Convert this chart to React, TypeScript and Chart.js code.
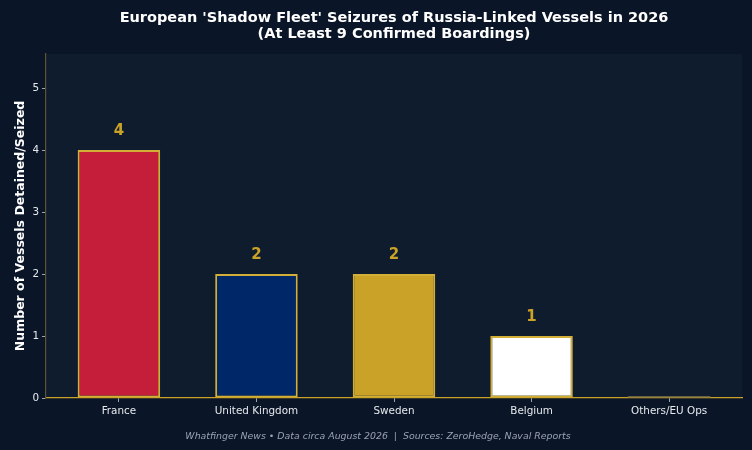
import React, { useEffect, useRef } from "react";
import { Chart, registerables } from "chart.js";

Chart.register(...registerables);

const categories = ["France", "United Kingdom", "Sweden", "Belgium", "Others/EU Ops"];
const seizures = [4, 2, 2, 1, 0];
const barColors = ["#c41e3a", "#002868", "#c9a227", "#ffffff", "#5a6270"];
const yTicks = [0, 1, 2, 3, 4, 5];
const titleLines = [
  "European 'Shadow Fleet' Seizures of Russia-Linked Vessels in 2026",
  "(At Least 9 Confirmed Boardings)",
];
const footerText =
  "Whatfinger News \u2022 Data circa August 2026  |  Sources: ZeroHedge, Naval Reports";

const FONT = "'DejaVu Sans', sans-serif";

export default function App() {
  const ref = useRef<HTMLCanvasElement | null>(null);

  useEffect(() => {
    document.body.style.margin = "0";
    document.body.style.background = "#0a1628";
    const canvas = ref.current;
    if (!canvas) return;

    const bgPlugin = {
      id: "bgPlugin",
      beforeDraw(chart: any) {
        const { ctx, chartArea } = chart;
        ctx.save();
        ctx.fillStyle = "#0a1628";
        ctx.fillRect(0, 0, chart.width, chart.height);
        ctx.fillStyle = "#0f1c2e";
        ctx.fillRect(
          chartArea.left,
          chartArea.top,
          chartArea.right - chartArea.left,
          chartArea.bottom - chartArea.top
        );
        ctx.restore();
      },
      afterDatasetsDraw(chart: any) {
        const { ctx } = chart;
        const meta = chart.getDatasetMeta(0);
        ctx.save();
        meta.data.forEach((bar: any, i: number) => {
          if (seizures[i] !== 0) return;
          const half = bar.width / 2;
          ctx.strokeStyle = "#8a7a45";
          ctx.lineWidth = 1.5;
          ctx.beginPath();
          ctx.moveTo(bar.x - half, bar.y - 1);
          ctx.lineTo(bar.x + half, bar.y - 1);
          ctx.stroke();
        });
        ctx.restore();
      },
      afterDraw(chart: any) {
        const { ctx } = chart;
        const meta = chart.getDatasetMeta(0);
        ctx.save();
        ctx.fillStyle = "#c9a227";
        ctx.font = `bold 15px ${FONT}`;
        ctx.textAlign = "center";
        ctx.textBaseline = "bottom";
        meta.data.forEach((bar: any, i: number) => {
          const v = seizures[i];
          if (v <= 0) return;
          const y = chart.scales.y.getPixelForValue(v + 0.18);
          ctx.fillText(String(v), bar.x, y);
        });
        ctx.fillStyle = "#9aa3b2";
        ctx.font = `italic 9.4px ${FONT}`;
        ctx.textBaseline = "middle";
        ctx.fillText(footerText, 378, 437);
        ctx.restore();
      },
    };

    const chart = new Chart(canvas, {
      type: "bar",
      data: {
        datasets: [
          {
            data: seizures.map((v, i) => ({ x: i, y: v })),
            backgroundColor: barColors,
            borderColor: "#d4af37",
            borderWidth: 2,
            borderSkipped: false,
            barPercentage: 0.6,
            categoryPercentage: 1,
          },
        ],
      },
      options: {
        animation: false,
        responsive: false,
        devicePixelRatio: 1,
        layout: { padding: { left: 0, right: 10, top: 0, bottom: 0 } },
        plugins: {
          legend: { display: false },
          tooltip: { enabled: false },
          title: {
            display: true,
            text: titleLines,
            color: "#ffffff",
            fullSize: false,
            font: { family: FONT, size: 14.5, weight: "bold", lineHeight: 1.1 },
            padding: { top: 10, bottom: 12 },
          },
        },
        scales: {
          x: {
            type: "linear",
            min: -0.53,
            max: 4.53,
            offset: false,
            grid: { display: true, offset: false, drawOnChartArea: false, drawTicks: true, tickLength: 4, color: "#9aa3b2" },
            border: { display: true, color: "#c9a227", width: 1.2 },
            ticks: {
              stepSize: 1,
              includeBounds: false,
              autoSkip: false,
              maxRotation: 0,
              padding: 3,
              color: "#e6e8ec",
              font: { family: FONT, size: 10.4 },
              callback: (v: any) => {
                const n = Number(v);
                return Number.isInteger(n) && categories[n] !== undefined ? categories[n] : "";
              },
            },
            afterFit: (s: any) => {
              s.height = 52;
            },
          },
          y: {
            min: 0,
            max: 5.55,
            grid: { display: true, drawOnChartArea: false, drawTicks: true, tickLength: 4, color: "#9aa3b2" },
            border: { display: true, color: "#5e5430", width: 1.2 },
            afterBuildTicks: (s: any) => {
              s.ticks = yTicks.map((v) => ({ value: v }));
            },
            ticks: {
              padding: 3,
              color: "#e6e8ec",
              font: { family: FONT, size: 10.4 },
            },
            title: {
              display: true,
              text: "Number of Vessels Detained/Seized",
              color: "#ffffff",
              font: { family: FONT, size: 12.5, weight: "bold" },
              padding: { top: 13, bottom: 0 },
            },
            afterFit: (s: any) => {
              s.width = 46;
            },
          },
        },
      },
      plugins: [bgPlugin],
    } as any);

    return () => chart.destroy();
  }, []);

  return (
    <div style={{ width: 752, height: 450 }}>
      <canvas ref={ref} width={752} height={450} style={{ display: "block", width: 752, height: 450 }} />
    </div>
  );
}
